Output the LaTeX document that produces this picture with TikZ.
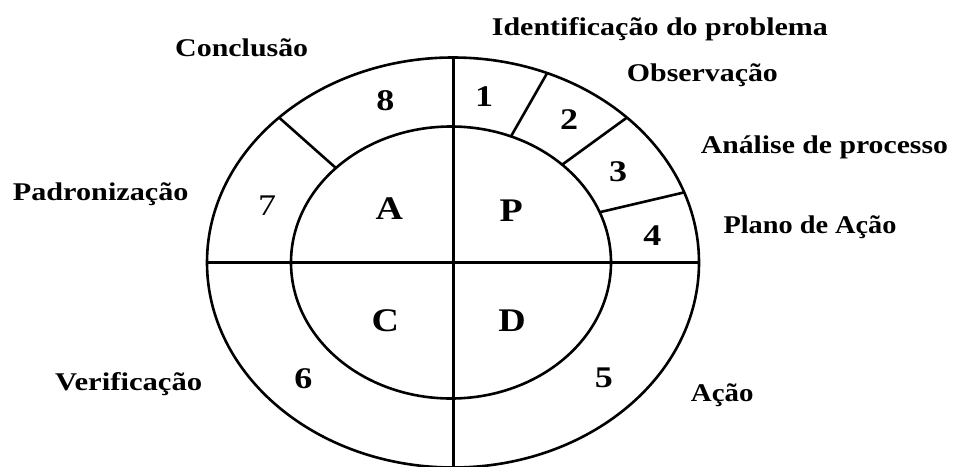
\documentclass[tikz,border=0pt]{standalone}
\usepackage{fontspec}
\setmainfont{Liberation Serif}
\usetikzlibrary{calc}
\begin{document}
\begin{tikzpicture}[x=1pt,y=-1pt,
  ring/.style={line width=2.6pt},
  axisline/.style={line width=3pt},
  sepline/.style={line width=2.6pt},
  lbl/.style={inner sep=0pt, anchor=base west, font=\bfseries\fontsize{25.5}{25.5}\selectfont},
  digit/.style={inner sep=0pt, font=\bfseries\fontsize{30}{30}\selectfont},
  phase/.style={inner sep=0pt, font=\bfseries\fontsize{33}{33}\selectfont}]
\useasboundingbox (0,0) rectangle (955,466);
\fill[white] (0,0) rectangle (955,466);
\coordinate (oc) at (453,262.5);
\coordinate (ic) at (451,262.5);
\draw[ring] (oc) ellipse [x radius=246pt, y radius=205pt];
\draw[ring] (ic) ellipse [x radius=160pt, y radius=136pt];
\coordinate (vt) at ($(oc)+(90:246pt and 205pt)$);
\coordinate (vb) at (453,466);
\coordinate (hl) at ($(oc)+(180:246pt and 205pt)$);
\coordinate (hr) at ($(oc)+(0:246pt and 205pt)$);
\draw[axisline] (vt) -- (vb);
\draw[axisline] (hl) -- (hr);
% dividers
\coordinate (o12) at ($(oc)+(67.5:246pt and 205pt)$);
\coordinate (i12) at ($(ic)+(68:160pt and 136pt)$);
\coordinate (o23) at ($(oc)+(45:246pt and 205pt)$);
\coordinate (i23) at ($(ic)+(46:160pt and 136pt)$);
\coordinate (o34) at ($(oc)+(20:246pt and 205pt)$);
\coordinate (i34) at ($(ic)+(21.7:160pt and 136pt)$);
\coordinate (o78) at ($(oc)+(135:246pt and 205pt)$);
\coordinate (i78) at ($(ic)+(136:160pt and 136pt)$);
\draw[sepline] (i12) -- (o12);
\draw[sepline] (i23) -- (o23);
\draw[sepline] (i34) -- (o34);
\draw[sepline] (i78) -- (o78);
% phase letters
\node[phase] (pA) at (389.3,209) {\scalebox{1.15}[1]{A}};
\node[phase] (pP) at (511.3,210.8) {\scalebox{1.15}[1]{P}};
\node[phase] (pC) at (385.3,320.8) {\scalebox{1.15}[1]{C}};
\node[phase] (pD) at (512,320.3) {\scalebox{1.15}[1]{D}};
% step digits
\node[digit] (n1) at (484.2,96.7) {\scalebox{1.2}[1]{1}};
\node[digit] (n2) at (569.2,120) {\scalebox{1.2}[1]{2}};
\node[digit] (n3) at (618,171.7) {\scalebox{1.2}[1]{3}};
\node[digit] (n4) at (652.3,235.8) {\scalebox{1.2}[1]{4}};
\node[digit] (n5) at (603.8,378.3) {\scalebox{1.2}[1]{5}};
\node[digit] (n6) at (303.3,378.3) {\scalebox{1.2}[1]{6}};
\node[digit,font=\fontsize{30}{30}\selectfont] (n7) at (267.2,205.8) {\scalebox{1.2}[1]{7}};
\node[digit] (n8) at (385.3,100.8) {\scalebox{1.2}[1]{8}};
% labels
\node[lbl] (t1) at (491.7,35) {\resizebox{336pt}{\height}{Identificação do problema}};
\node[lbl] (t2) at (626.7,81.7) {\resizebox{151pt}{\height}{Observação}};
\node[lbl] (t3) at (700.7,153.3) {\resizebox{247pt}{\height}{Análise de processo}};
\node[lbl] (t4) at (723.3,233.3) {\resizebox{173pt}{\height}{Plano de Ação}};
\node[lbl] (t5) at (690.7,401) {\resizebox{62.6pt}{\height}{Ação}};
\node[lbl] (t6) at (55,390) {\resizebox{147pt}{\height}{Verificação}};
\node[lbl] (t7) at (12.7,200.7) {\resizebox{175.6pt}{\height}{Padronização}};
\node[lbl] (t8) at (175,56) {\resizebox{133pt}{\height}{Conclusão}};
\end{tikzpicture}
\end{document}
